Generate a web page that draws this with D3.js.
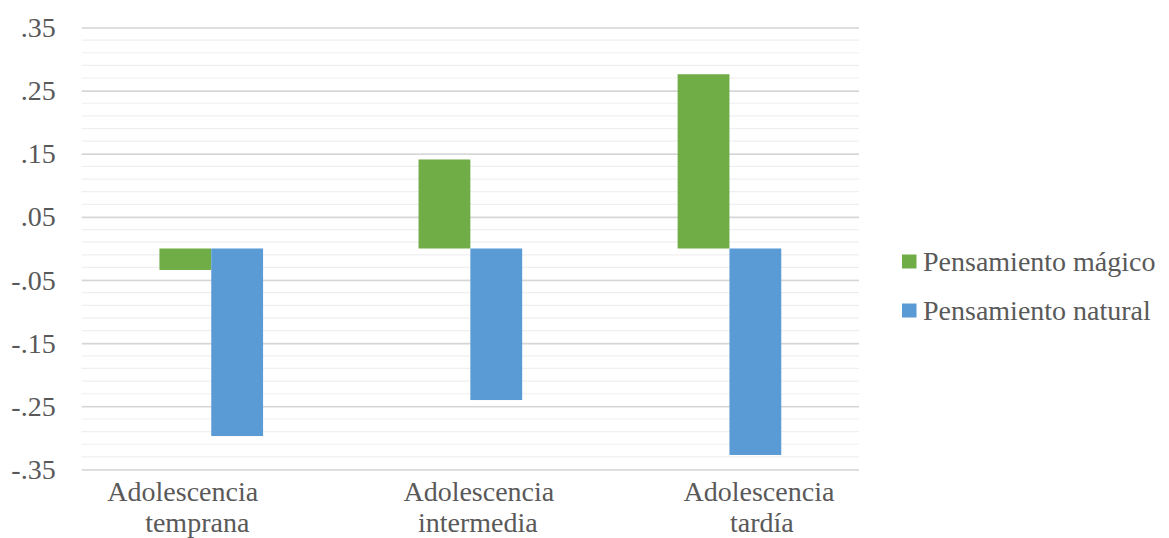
<!DOCTYPE html>
<html>
<head>
<meta charset="utf-8">
<script src="https://cdn.jsdelivr.net/npm/d3@7"></script>
<style>
  html, body { margin: 0; padding: 0; background: #fff; }
  svg { display: block; }
  text { font-family: "Liberation Serif", "Times New Roman", "Liberation Sans", sans-serif; fill: #595959; }
</style>
</head>
<body>
<svg id="chart" width="1169" height="538"></svg>
<script>
// Age groups (two-line labels) and the two series
const categories = ["Adolescencia temprana", "Adolescencia intermedia", "Adolescencia tardía"];
const categoryLines = [["Adolescencia", "temprana"], ["Adolescencia", "intermedia"], ["Adolescencia", "tardía"]];
const seriesNames = ["Pensamiento mágico", "Pensamiento natural"];
const magicValues = [-0.034, 0.141, 0.276];
const naturalValues = [-0.297, -0.240, -0.327];
const tickValues = [0.35, 0.25, 0.15, 0.05, -0.05, -0.15, -0.25, -0.35];
const tickLabels = [".35", ".25", ".15", ".05", "-.05", "-.15", "-.25", "-.35"];

const colors = ["#70AD47", "#5B9BD5"];
const seriesValues = [magicValues, naturalValues];
const fontFamily = '"Liberation Serif", "Times New Roman", "Liberation Sans", sans-serif';
const fontSize = 28;

const svg = d3.select("#chart");
const plot = { left: 81.7, right: 859, top: 27.5, bottom: 469.5 };

const y = d3.scaleLinear().domain([-0.35, 0.35]).range([plot.bottom, plot.top]);
const x0 = d3.scaleBand().domain(categories).range([plot.left, plot.right]).padding(0);
const groupWidth = x0.bandwidth() * 0.4;
const x1 = d3.scaleBand().domain(seriesNames).range([0, groupWidth]).padding(0);

// Minor gridlines every .02, major at the labelled ticks
const minor = d3.range(-35, 36, 2).map(v => v / 100);
svg.append("g").selectAll("line").data(minor).join("line")
  .attr("x1", plot.left).attr("x2", plot.right)
  .attr("y1", d => y(d)).attr("y2", d => y(d))
  .attr("stroke", "#efefef").attr("stroke-width", 1.2);

const yAxis = d3.axisLeft(y)
  .tickValues(tickValues)
  .tickFormat((d, i) => tickLabels[i])
  .tickSize(-(plot.right - plot.left))
  .tickPadding(26);
const gy = svg.append("g").attr("transform", `translate(${plot.left},0)`).call(yAxis);
gy.attr("font-family", fontFamily);
gy.select(".domain").remove();
gy.selectAll(".tick line").attr("stroke", "#d6d6d6").attr("stroke-width", 1.5);
gy.selectAll(".tick text")
  .attr("font-size", fontSize)
  .attr("font-family", fontFamily)
  .attr("fill", "#595959");

// Bars grow from zero
const groups = svg.append("g").selectAll("g").data(categories).join("g")
  .attr("transform", d => `translate(${x0(d) + (x0.bandwidth() - groupWidth) / 2},0)`);

groups.selectAll("rect")
  .data((d, i) => seriesNames.map((s, k) => ({ series: s, value: seriesValues[k][i], k })))
  .join("rect")
  .attr("x", d => x1(d.series))
  .attr("width", x1.bandwidth())
  .attr("y", d => y(Math.max(0, d.value)))
  .attr("height", d => Math.abs(y(d.value) - y(0)))
  .attr("fill", d => colors[d.k]);

// Category labels, two lines each, with the wrap offsets of the original layout
const labelShift = [[-28.5, -14], [8.5, 7.5], [29.5, 32.5]];
const labelG = svg.append("g").attr("font-family", fontFamily);
categories.forEach((c, i) => {
  const cx = x0(c) + x0.bandwidth() / 2;
  categoryLines[i].forEach((line, j) => {
    labelG.append("text")
      .attr("x", cx + labelShift[i][j])
      .attr("y", 501 + j * 30.5)
      .attr("text-anchor", "middle")
      .attr("font-size", fontSize)
      .text(line);
  });
});

// Legend
const legend = svg.append("g").attr("transform", "translate(902,254.5)").attr("font-family", fontFamily);
seriesNames.forEach((s, k) => {
  const g = legend.append("g").attr("transform", `translate(0,${k * 49})`);
  g.append("rect").attr("width", 14.5).attr("height", 14).attr("fill", colors[k]);
  g.append("text").attr("x", 21).attr("y", 16).attr("font-size", fontSize).text(s);
});
</script>
</body>
</html>
